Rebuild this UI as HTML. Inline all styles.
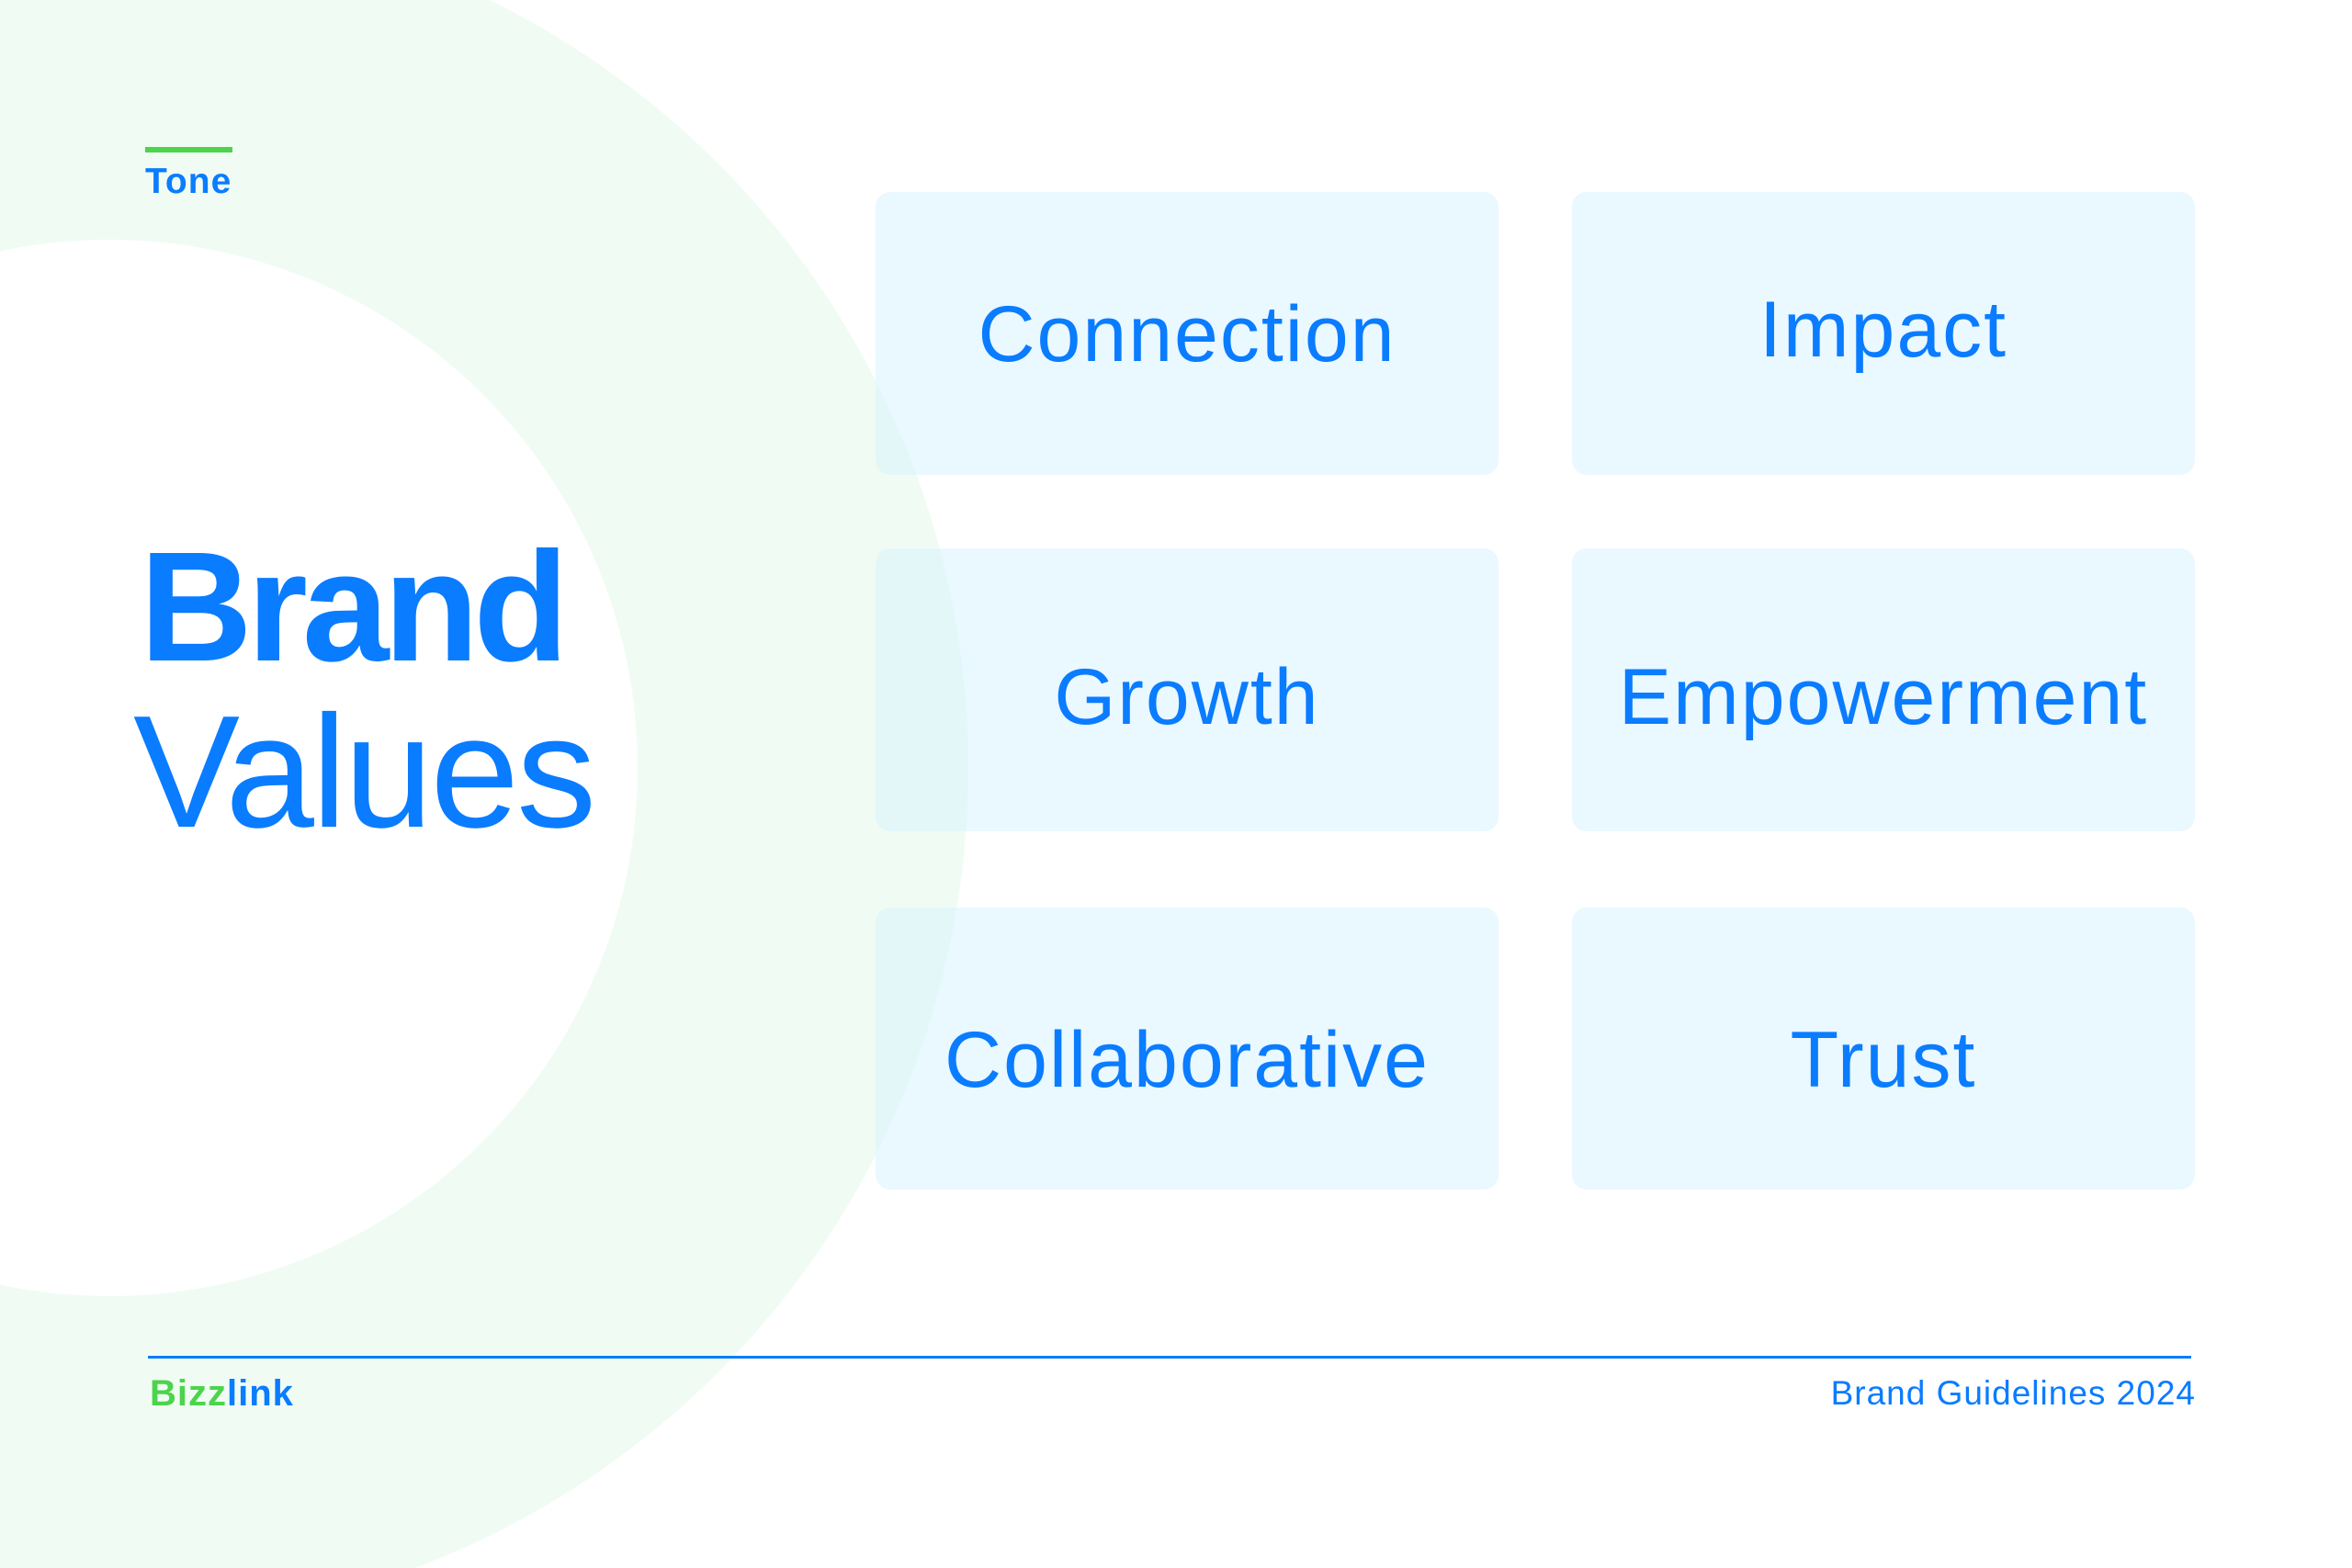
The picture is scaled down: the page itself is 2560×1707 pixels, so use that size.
<!DOCTYPE html>
<html style="overflow:hidden;width:2560px;height:1707px"><head><meta charset="utf-8"><style>
html,body{margin:0;padding:0}
body{width:2560px;height:1707px;position:relative;overflow:hidden;background:#fff;font-family:"Liberation Sans",sans-serif}
#w{position:absolute;left:0;top:0;width:2560px;height:1707px;overflow:hidden}
.c{position:absolute;border-radius:50%}
.box{position:absolute;width:678px;border-radius:16px;background:rgba(214,242,255,0.5);display:flex;align-items:center;justify-content:center;color:#0a7cff;font-size:86px;letter-spacing:2px}
.t{position:absolute;white-space:nowrap;color:#0a7cff;line-height:1}
</style></head><body><div id="w">
<div class="c" style="left:-808px;top:-95px;width:1862px;height:1862px;background:#f0fcf3"></div>
<div class="c" style="left:-456px;top:261px;width:1150px;height:1150px;background:#fff"></div>
<div style="position:absolute;left:158px;top:160px;width:95px;height:6px;background:#4cd44c"></div>
<div class="t" style="left:158px;top:178px;font-size:39px;font-weight:bold;letter-spacing:1px">Tone</div>
<div class="t" style="left:152px;top:576px;font-size:170px;font-weight:bold;letter-spacing:-6px">Brand</div>
<div class="t" style="left:145px;top:753px;font-size:174px;letter-spacing:-3px">Values</div>
<div class="box" style="left:953px;top:209px;height:308px"><span style="margin-top:2px">Connection</span></div>
<div class="box" style="left:1711px;top:209px;height:308px"><span style="margin-top:-8px">Impact</span></div>
<div class="box" style="left:953px;top:597px;height:308px"><span style="margin-top:16px">Growth</span></div>
<div class="box" style="left:1711px;top:597px;height:308px"><span style="margin-top:16px">Empowerment</span></div>
<div class="box" style="left:953px;top:988px;height:307px"><span style="margin-top:26px">Collaborative</span></div>
<div class="box" style="left:1711px;top:988px;height:307px"><span style="margin-top:26px">Trust</span></div>
<div style="position:absolute;left:161px;top:1476px;width:2224px;height:3px;background:#0a7cff"></div>
<div class="t" style="left:163px;top:1497px;font-size:40px;font-weight:bold;letter-spacing:1px"><span style="color:#4cd44c">Bizz</span>link</div>
<div class="t" style="right:170px;top:1498px;font-size:37px;letter-spacing:1px">Brand Guidelines 2024</div>
</div></body></html>
